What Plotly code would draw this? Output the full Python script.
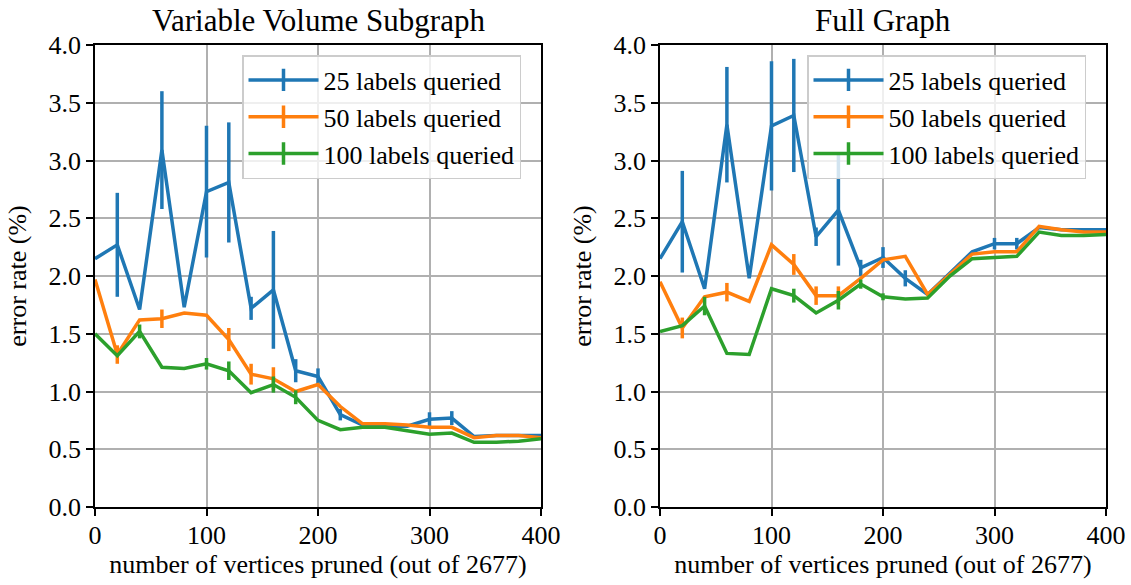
import plotly.graph_objects as go

x_pruned = [0, 20, 40, 60, 80, 100, 120, 140, 160, 180, 200, 220, 240, 260, 280, 300, 320, 340, 360, 380, 400]

series_names = ["25 labels queried", "50 labels queried", "100 labels queried"]
series_colors = ["#1f77b4", "#ff7f0e", "#2ca02c"]
panel_titles = ["Variable Volume Subgraph", "Full Graph"]

# Variable Volume Subgraph
vv_25 = [2.15, 2.27, 1.71, 3.09, 1.73, 2.73, 2.81, 1.72, 1.88, 1.18, 1.13, 0.80, 0.71, 0.70, 0.70, 0.76, 0.77, 0.61, 0.62, 0.62, 0.62]
vv_25_err = [0, 0.45, 0, 0.51, 0, 0.57, 0.52, 0.10, 0.51, 0.10, 0.07, 0.05, 0, 0, 0, 0.06, 0.06, 0, 0, 0, 0]
vv_50 = [1.97, 1.32, 1.62, 1.63, 1.68, 1.66, 1.45, 1.15, 1.11, 1.00, 1.06, 0.87, 0.72, 0.72, 0.71, 0.69, 0.69, 0.60, 0.62, 0.62, 0.60]
vv_50_err = [0, 0.08, 0, 0.08, 0, 0, 0.10, 0.09, 0.10, 0, 0, 0, 0, 0, 0, 0, 0, 0, 0, 0, 0]
vv_100 = [1.50, 1.31, 1.52, 1.21, 1.20, 1.24, 1.18, 0.99, 1.06, 0.95, 0.75, 0.67, 0.69, 0.69, 0.66, 0.63, 0.64, 0.56, 0.56, 0.57, 0.59]
vv_100_err = [0, 0, 0.06, 0, 0, 0.05, 0.08, 0, 0.07, 0.06, 0, 0, 0, 0, 0, 0, 0, 0, 0, 0, 0]

# Full Graph
fg_25 = [2.15, 2.47, 1.89, 3.31, 1.98, 3.30, 3.39, 2.34, 2.57, 2.07, 2.16, 1.98, 1.84, 2.02, 2.21, 2.28, 2.28, 2.42, 2.40, 2.40, 2.40]
fg_25_err = [0, 0.44, 0, 0.50, 0, 0.56, 0.49, 0.08, 0.48, 0.07, 0.09, 0.07, 0, 0, 0, 0.05, 0.05, 0, 0, 0, 0]
fg_50 = [1.95, 1.55, 1.82, 1.86, 1.78, 2.27, 2.10, 1.83, 1.83, 1.98, 2.14, 2.17, 1.84, 2.02, 2.19, 2.21, 2.21, 2.43, 2.40, 2.38, 2.38]
fg_50_err = [0, 0.09, 0, 0.08, 0, 0, 0.09, 0.08, 0.08, 0, 0, 0, 0, 0, 0, 0, 0, 0, 0, 0, 0]
fg_100 = [1.52, 1.57, 1.74, 1.33, 1.32, 1.89, 1.83, 1.68, 1.79, 1.93, 1.82, 1.80, 1.81, 2.00, 2.15, 2.16, 2.17, 2.38, 2.35, 2.35, 2.36]
fg_100_err = [0, 0, 0.08, 0, 0, 0, 0.06, 0, 0.08, 0.04, 0.03, 0, 0, 0, 0, 0, 0, 0, 0, 0, 0]

x_ticks = [0, 100, 200, 300, 400]
y_ticks = [0.0, 0.5, 1.0, 1.5, 2.0, 2.5, 3.0, 3.5, 4.0]

panels = [
    ([vv_25, vv_50, vv_100], [vv_25_err, vv_50_err, vv_100_err]),
    ([fg_25, fg_50, fg_100], [fg_25_err, fg_50_err, fg_100_err]),
]

FONT = "Liberation Serif"
fig = go.Figure()

for p, (ys, errs) in enumerate(panels):
    xa = "x" if p == 0 else "x2"
    ya = "y" if p == 0 else "y2"
    lg = "legend" if p == 0 else "legend2"
    for name, color, yv, ev in zip(series_names, series_colors, ys, errs):
        fig.add_trace(go.Scatter(
            x=x_pruned, y=yv, mode="lines", xaxis=xa, yaxis=ya,
            line=dict(color=color, width=3.5),
            error_y=dict(type="data", array=ev, visible=True, color=color, thickness=3.5, width=0),
            showlegend=False, name=name, hoverinfo="x+y",
        ))
    for name, color in zip(series_names, series_colors):
        fig.add_trace(go.Scatter(
            x=[None], y=[None], mode="lines+markers", xaxis=xa, yaxis=ya,
            line=dict(color=color, width=3.5),
            marker=dict(symbol="line-ns", size=22, line=dict(color=color, width=3.5)),
            name=name, legend=lg, showlegend=True,
        ))

dom_y = [78 / 585, 540 / 585]
dom_x1 = [95 / 1131, 541 / 1131]
dom_x2 = [660 / 1131, 1106 / 1131]

def tf(size=26):
    return dict(size=size, family=FONT, color="black")

def xaxis(domain, anchor):
    return dict(domain=domain, anchor=anchor, range=[0, 400], tickvals=x_ticks, automargin=False,
                showgrid=True, gridcolor="#b0b0b0", gridwidth=2,
                showline=True, linecolor="black", linewidth=1.6, mirror=True,
                ticks="outside", ticklen=7, tickwidth=1.6, tickcolor="black", ticklabelstandoff=-3,
                zeroline=False, tickfont=tf(),
                title=dict(text="number of vertices pruned (out of 2677)", font=tf(), standoff=6))

def yaxis(anchor):
    return dict(domain=dom_y, anchor=anchor, range=[0, 4], tickvals=y_ticks, tickformat=".1f", automargin=False,
                showgrid=True, gridcolor="#b0b0b0", gridwidth=2,
                showline=True, linecolor="black", linewidth=1.6, mirror=True,
                ticks="outside", ticklen=7, tickwidth=1.6, tickcolor="black",
                zeroline=False, tickfont=tf(),
                title=dict(text="error rate (%)", font=tf(), standoff=14))

legend_style = dict(bgcolor="rgba(255,255,255,0.8)", bordercolor="#cccccc", borderwidth=1.5,
                    font=tf(), xanchor="left", yanchor="top",
                    itemwidth=70, tracegroupgap=0)

fig.update_layout(
    width=1131, height=585, margin=dict(l=0, r=0, t=0, b=0, autoexpand=False),
    plot_bgcolor="white", paper_bgcolor="white",
    font=tf(),
    xaxis=xaxis(dom_x1, "y"), yaxis=yaxis("x"),
    xaxis2=xaxis(dom_x2, "y2"), yaxis2=yaxis("x2"),
    legend=dict(x=242 / 1131, y=1 - 55 / 585, **legend_style),
    legend2=dict(x=807 / 1131, y=1 - 55 / 585, **legend_style),
    annotations=[
        dict(text=panel_titles[0], x=(dom_x1[0] + dom_x1[1]) / 2, y=1 - 21 / 585, xref="paper", yref="paper",
             showarrow=False, xanchor="center", yanchor="middle", font=tf(31)),
        dict(text=panel_titles[1], x=(dom_x2[0] + dom_x2[1]) / 2, y=1 - 21 / 585, xref="paper", yref="paper",
             showarrow=False, xanchor="center", yanchor="middle", font=tf(31)),
    ],
)

fig.write_html("out.html")
